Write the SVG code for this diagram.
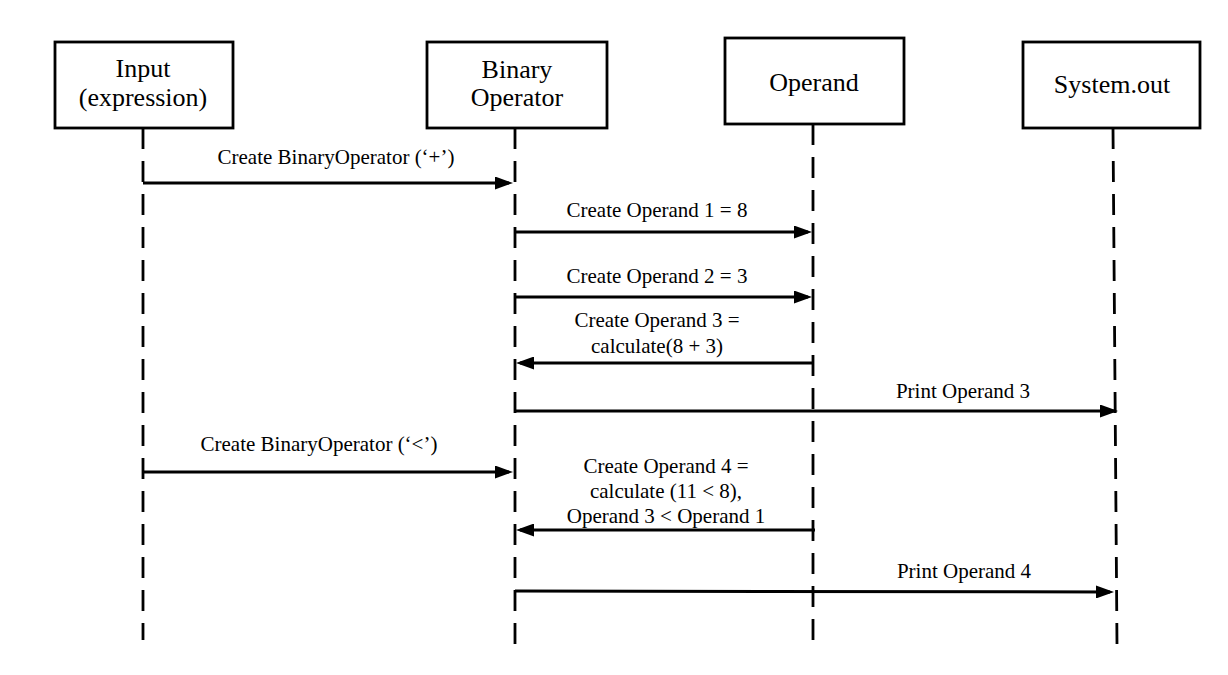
<svg xmlns="http://www.w3.org/2000/svg" width="1228" height="675" viewBox="0 0 1228 675">
  <defs>
    <marker id="arrow" markerUnits="userSpaceOnUse" markerWidth="18" markerHeight="13" refX="14" refY="6.5" orient="auto">
      <path d="M0,0 L18,6.5 L0,13 Z" fill="#000"/>
    </marker>
    <style>
      .box { fill: #fff; stroke: #000; stroke-width: 2.8; }
      .life { stroke: #000; stroke-width: 2.8; stroke-dasharray: 21 12; fill: none; }
      .msg { stroke: #000; stroke-width: 3; fill: none; marker-end: url(#arrow); }
      .node { font-family: "Liberation Serif", "Times New Roman", serif; font-size: 26px; fill: #000; text-anchor: middle; }
      .lbl { font-family: "Liberation Serif", "Times New Roman", serif; font-size: 21px; fill: #000; text-anchor: middle; }
    </style>
  </defs>
  <rect width="1228" height="675" fill="#fff"/>

  <g id="lifelines">
    <line class="life" x1="143" y1="128" x2="143" y2="640"/>
    <line class="life" x1="515" y1="128" x2="515" y2="645"/>
    <line class="life" x1="813" y1="124" x2="813" y2="640"/>
    <line class="life" x1="1113" y1="128" x2="1117" y2="645"/>
  </g>

  <g id="node-input">
    <rect class="box" x="55" y="42" width="178" height="86"/>
    <text class="node" x="143" y="77">Input</text>
    <text class="node" x="143" y="106">(expression)</text>
  </g>
  <g id="node-binary">
    <rect class="box" x="427" y="42" width="180" height="86"/>
    <text class="node" x="517" y="78">Binary</text>
    <text class="node" x="517" y="106">Operator</text>
  </g>
  <g id="node-operand">
    <rect class="box" x="725" y="38" width="179" height="86"/>
    <text class="node" x="814" y="91">Operand</text>
  </g>
  <g id="node-system">
    <rect class="box" x="1023" y="42" width="177" height="86"/>
    <text class="node" x="1112" y="93">System.out</text>
  </g>

  <g id="connectors">
    <line class="msg" x1="143" y1="183" x2="509" y2="183"/>
    <line class="msg" x1="515" y1="232" x2="808" y2="232"/>
    <line class="msg" x1="515" y1="297" x2="808" y2="297"/>
    <line class="msg" x1="813" y1="363" x2="520" y2="363"/>
    <line class="msg" x1="515" y1="411" x2="1114" y2="411"/>
    <line class="msg" x1="143" y1="472" x2="509" y2="472"/>
    <line class="msg" x1="815" y1="530" x2="520" y2="530"/>
    <line class="msg" x1="515" y1="591" x2="1110" y2="592"/>
  </g>

  <g id="labels">
    <text class="lbl" x="336" y="164">Create BinaryOperator (‘+’)</text>
    <text class="lbl" x="657" y="217">Create Operand 1 = 8</text>
    <text class="lbl" x="657" y="283">Create Operand 2 = 3</text>
    <text class="lbl" x="657" y="327">Create Operand 3 =</text>
    <text class="lbl" x="657" y="353">calculate(8 + 3)</text>
    <text class="lbl" x="963" y="398">Print Operand 3</text>
    <text class="lbl" x="319" y="451">Create BinaryOperator (‘&lt;’)</text>
    <text class="lbl" x="666" y="473">Create Operand 4 =</text>
    <text class="lbl" x="666" y="498">calculate (11 &lt; 8),</text>
    <text class="lbl" x="666" y="523">Operand 3 &lt; Operand 1</text>
    <text class="lbl" x="964" y="578">Print Operand 4</text>
  </g>
</svg>
